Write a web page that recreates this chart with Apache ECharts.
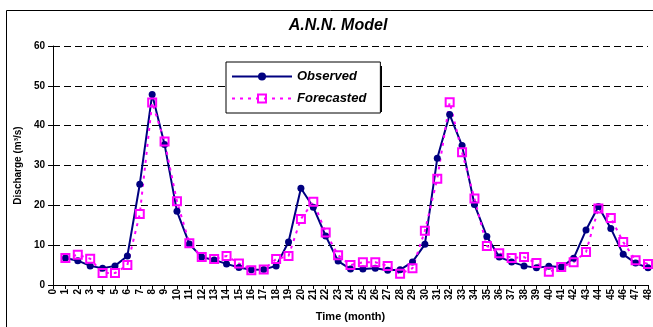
<!DOCTYPE html>
<html>
<head>
<meta charset="utf-8">
<script src="https://cdn.jsdelivr.net/npm/echarts@6/dist/echarts.min.js"></script>
<style>
  html, body { margin: 0; padding: 0; background: #fff; }
  #chart { width: 653px; height: 327px; }
</style>
</head>
<body>
<div id="chart"></div>
<script>
// months 0..48, no data at month 0
const months = Array.from({ length: 49 }, (_, i) => String(i));
const observed = ['-', 6.8, 6.1, 4.8, 4.2, 4.8, 7.3, 25.3, 47.8, 35.3, 18.5,
  10.3, 7.0, 6.3, 5.3, 4.4, 3.8, 3.9, 4.8, 10.8, 24.3,
  19.5, 12.3, 6.0, 4.0, 4.0, 4.2, 3.7, 3.8, 5.8, 10.2,
  31.8, 42.8, 35.0, 20.2, 12.2, 7.0, 5.8, 4.8, 4.3, 4.7,
  4.5, 6.7, 13.8, 19.7, 14.2, 7.7, 5.5, 4.3];
const forecasted = ['-', 6.8, 7.6, 6.6, 3.0, 3.0, 5.0, 17.8, 45.8, 36.0, 21.0,
  10.5, 7.0, 6.5, 7.3, 5.4, 3.7, 3.9, 6.5, 7.3, 16.6,
  20.9, 13.2, 7.5, 5.0, 5.7, 5.7, 4.8, 2.8, 4.2, 13.6,
  26.7, 45.9, 33.3, 21.7, 9.8, 8.0, 6.8, 7.0, 5.5, 3.3,
  4.5, 5.7, 8.3, 19.2, 16.8, 10.8, 6.2, 5.3];

const font = 'Arial, "Liberation Sans", sans-serif';
const chart = echarts.init(document.getElementById('chart'));

chart.setOption({
  animation: false,
  textStyle: { fontFamily: font },
  title: {
    text: 'A.N.N. Model',
    left: 333,
    textAlign: 'center',
    top: 13,
    textStyle: { fontSize: 16, fontWeight: 'bold', fontStyle: 'italic', color: '#000', fontFamily: font }
  },
  graphic: [
    {
      // chart frame
      type: 'rect',
      shape: { x: 6.5, y: 10.5, width: 700, height: 400 },
      style: { fill: 'none', stroke: '#000', lineWidth: 1 },
      silent: true
    },
    {
      // legend drop shadow
      type: 'rect',
      z: 1,
      shape: { x: 230, y: 66, width: 152, height: 46 },
      style: { fill: '#000' },
      silent: true
    }
  ],
  legend: {
    orient: 'vertical',
    left: 226,
    top: 62,
    z: 5,
    padding: [8, 14, 8, 5],
    itemGap: 9,
    itemWidth: 60,
    itemHeight: 10,
    backgroundColor: '#fff',
    borderColor: '#000',
    borderWidth: 1,
    textStyle: { fontSize: 13, fontWeight: 'bold', fontStyle: 'italic', color: '#000', fontFamily: font }
  },
  grid: { left: 53, right: 2, top: 46, bottom: 42 },
  xAxis: {
    type: 'category',
    data: months,
    boundaryGap: false,
    name: 'Time (month)',
    nameLocation: 'middle',
    nameGap: 26,
    nameTextStyle: { fontSize: 11, fontWeight: 'bold', color: '#000' },
    axisLine: { lineStyle: { color: '#000', width: 1 } },
    axisTick: { inside: false, length: 4, interval: 0, lineStyle: { color: '#000' } },
    axisLabel: { interval: 0, rotate: 90, fontSize: 10, fontWeight: 'bold', color: '#000', margin: 4 },
    splitLine: { show: false }
  },
  yAxis: {
    type: 'value',
    min: 0,
    max: 60,
    interval: 10,
    name: 'Discharge (m³/s)',
    nameLocation: 'middle',
    nameGap: 30,
    nameTextStyle: { fontSize: 10, fontWeight: 'bold', color: '#000' },
    axisLine: { show: true, lineStyle: { color: '#000', width: 1 } },
    axisTick: { show: true, length: 5, lineStyle: { color: '#000' } },
    axisLabel: { fontSize: 10, fontWeight: 'bold', color: '#000', margin: 8 },
    splitLine: { show: true, lineStyle: { color: '#000', type: [7, 4], width: 1 } }
  },
  series: [
    {
      name: 'Observed',
      type: 'line',
      data: observed,
      symbol: 'circle',
      symbolSize: 7,
      lineStyle: { color: '#000080', width: 2 },
      itemStyle: { color: '#000080' }
    },
    {
      name: 'Forecasted',
      type: 'line',
      data: forecasted,
      symbol: 'rect',
      symbolSize: 8,
      lineStyle: { color: '#ff00ff', width: 2, type: [3, 5] },
      itemStyle: { color: 'transparent', borderColor: '#ff00ff', borderWidth: 2 }
    }
  ]
});
</script>
</body>
</html>
